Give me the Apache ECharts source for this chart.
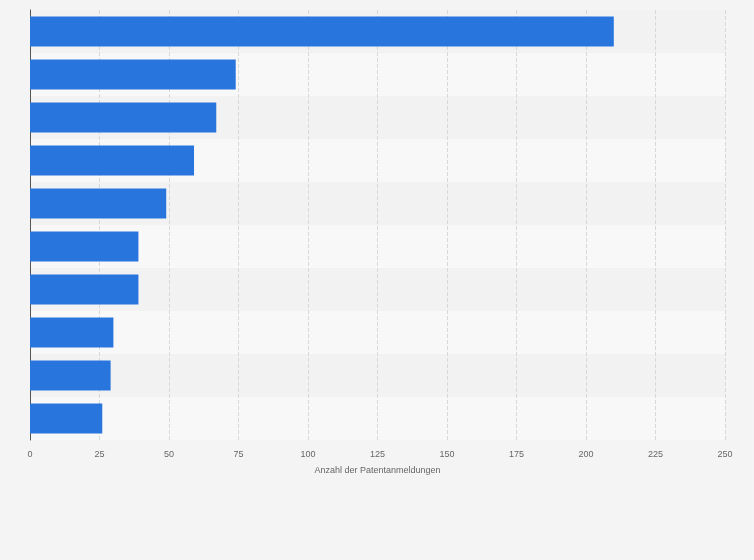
<!DOCTYPE html>
<html>
<head>
<meta charset="utf-8">
<script src="https://cdn.jsdelivr.net/npm/echarts@6/dist/echarts.min.js"></script>
<style>
  html, body { margin: 0; padding: 0; background: #f4f4f4; }
  #chart { width: 754px; height: 560px; }
</style>
</head>
<body>
<div id="chart"></div>
<script>
// category names are not shown in the reference, only rank slots
const categories = ['1', '2', '3', '4', '5', '6', '7', '8', '9', '10'];
const values = [210, 74, 67, 59, 49, 39, 39, 30, 29, 26];
const xTicks = [0, 25, 50, 75, 100, 125, 150, 175, 200, 225, 250];

const chart = echarts.init(document.getElementById('chart'));
chart.setOption({
  backgroundColor: '#f4f4f4',
  animation: false,
  grid: { left: 30, right: 29, top: 10, bottom: 120 },
  xAxis: {
    type: 'value',
    min: xTicks[0],
    max: xTicks[xTicks.length - 1],
    interval: 25,
    name: 'Anzahl der Patentanmeldungen',
    nameLocation: 'middle',
    nameGap: 26,
    nameTextStyle: { color: '#666', fontSize: 9, fontFamily: 'Liberation Sans' },
    axisLine: { show: false },
    axisTick: { show: false },
    axisLabel: { color: '#666', fontSize: 9, fontFamily: 'Liberation Sans', margin: 10 },
    splitLine: { lineStyle: { color: '#d8d8d8', type: 'dashed' } }
  },
  yAxis: {
    type: 'category',
    data: categories,
    inverse: true,
    axisLine: { lineStyle: { color: '#555', width: 1 } },
    axisTick: { show: false },
    axisLabel: { show: false },
    splitArea: { show: true, areaStyle: { color: ['#f2f2f2', '#f8f8f8'] } }
  },
  series: [{
    type: 'bar',
    data: values,
    barCategoryGap: '30%',
    itemStyle: { color: '#2876dd' }
  }]
});
</script>
</body>
</html>
